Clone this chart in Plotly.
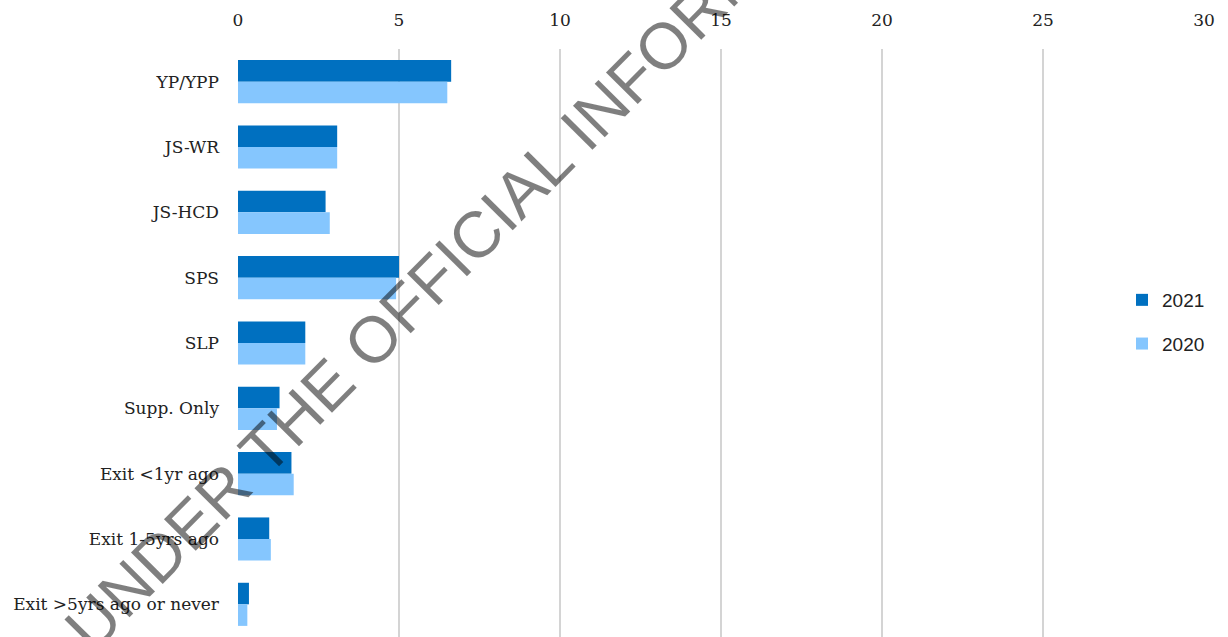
import plotly.graph_objects as go

# Caseload categories, top to bottom
categories = [
    "YP/YPP", "JS-WR", "JS-HCD", "SPS", "SLP", "Supp. Only",
    "Exit <1yr ago", "Exit 1-5yrs ago", "Exit >5yrs ago or never",
]
values_2021 = [6.62, 3.08, 2.72, 5.00, 2.09, 1.29, 1.66, 0.97, 0.34]
values_2020 = [6.50, 3.08, 2.85, 4.91, 2.09, 1.21, 1.73, 1.02, 0.29]
x_ticks = [0, 5, 10, 15, 20, 25, 30]

serif = "DejaVu Serif, Liberation Serif, serif"
sans = "Liberation Sans, Arial, sans-serif"

fig = go.Figure()
fig.add_trace(go.Bar(
    y=categories, x=values_2021, name="2021", orientation="h",
    marker=dict(color="#0070C0", line=dict(width=0)),
    legendgroup="a",
))
fig.add_trace(go.Bar(
    y=categories, x=values_2020, name="2020", orientation="h",
    marker=dict(color="#85C6FE", line=dict(width=0)),
    legendgroup="b",
))

fig.update_layout(
    width=1228, height=637,
    margin=dict(l=238, r=24, t=49, b=0),
    paper_bgcolor="white", plot_bgcolor="white",
    barmode="group", bargap=0.34, bargroupgap=0,
    font=dict(family=serif, size=17, color="#222222"),
    showlegend=True,
    legend=dict(
        x=(1122 - 238) / 966, xanchor="left",
        y=(637 - 322) / 588, yanchor="middle",
        font=dict(family=sans, size=19, color="#222222"),
        traceorder="grouped", tracegroupgap=16,
        bgcolor="rgba(0,0,0,0)",
    ),
    xaxis=dict(
        side="top", range=[0, 30], tickvals=x_ticks,
        showgrid=True, gridcolor="#D4D4D4", gridwidth=1.5,
        zeroline=False, showline=False, ticks="",
        ticklabelstandoff=19,
        tickfont=dict(family=serif, size=17, color="#222222"),
        fixedrange=True,
    ),
    yaxis=dict(
        autorange="reversed", showgrid=False, zeroline=False,
        showline=False, ticks="", ticklabelstandoff=18,
        tickfont=dict(family=serif, size=17, color="#222222"),
    ),
)

# Release watermark across the chart
fig.add_annotation(
    text="UNDER THE OFFICIAL INFORMATION ACT",
    xref="paper", yref="paper",
    x=(533 - 238) / 966, y=(637 - 177) / 588,
    xanchor="center", yanchor="middle",
    textangle=-45.3, showarrow=False,
    font=dict(family=sans, size=65, color="rgba(0,0,0,0.5)"),
)

fig.write_html("out.html")
